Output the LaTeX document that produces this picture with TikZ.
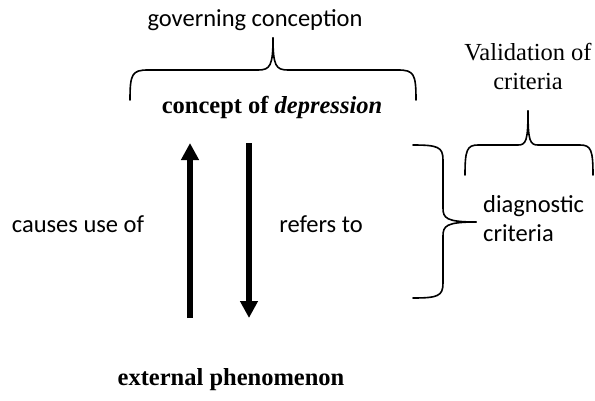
\documentclass[tikz,border=0pt]{standalone}
\usepackage{fontspec}
\setmainfont{Liberation Serif}
\newfontfamily\calibri{Carlito}
\usetikzlibrary{arrows.meta}
\tikzset{
  sanslabel/.style={font=\calibri\fontsize{24.5}{29}\selectfont, inner sep=0pt},
  seriflabel/.style={font=\fontsize{24.5}{29}\selectfont, inner sep=0pt},
  boldlabel/.style={font=\bfseries\fontsize{24.5}{29}\selectfont, inner sep=0pt},
  bracket/.style={line width=1.6pt, line cap=round},
  bigarrow/.style={line width=6pt, -{Triangle[length=17pt,width=17pt]}}
}
\begin{document}
\begin{tikzpicture}[x=1pt,y=-1pt]
    \useasboundingbox (0,0) rectangle (595,400);

    % Texts
    \node[sanslabel] (governing) at (255,20) {governing conception};
    \node[boldlabel] (concept) at (272,107) {concept of \textit{depression}};
    \node[boldlabel] (external) at (231,380) {external phenomenon};
    \node[sanslabel] (causes) at (78,224) {causes use of};
    \node[sanslabel] (refers) at (321,224) {refers to};
    \node[sanslabel, align=left, anchor=west] (diagnostic) at (483,219) {diagnostic\\criteria};
    \node[seriflabel, align=center] (validation) at (528,66) {Validation of\\criteria};

    % Braces
    \draw[bracket] (130,100) .. controls (130,74) and (132,70) .. (148,70) -- (258,70)
        .. controls (270,70) and (273,66) .. (273,38);
    \draw[bracket] (416,100) .. controls (416,74) and (414,70) .. (398,70) -- (288,70)
        .. controls (276,70) and (273,66) .. (273,38);
    \draw[bracket] (413,145) .. controls (438,145) and (443,147) .. (443,160) -- (443,208)
        .. controls (443,218) and (446,222) .. (476,222);
    \draw[bracket] (413,298) .. controls (438,298) and (443,296) .. (443,283) -- (443,236)
        .. controls (443,226) and (446,222) .. (476,222);
    \draw[bracket] (465,175) .. controls (465,150) and (467,145) .. (478,145) -- (518,145)
        .. controls (526,145) and (528,141) .. (528,111);
    \draw[bracket] (593,175) .. controls (593,150) and (591,145) .. (580,145) -- (538,145)
        .. controls (530,145) and (528,141) .. (528,111);

    % Arrows
    \coordinate (upstart) at (190,318);
    \coordinate (upend) at (190,143);
    \coordinate (downstart) at (249,143);
    \coordinate (downend) at (249,318);
    \draw[bigarrow] (upstart) -- (upend);
    \draw[bigarrow] (downstart) -- (downend);
\end{tikzpicture}
\end{document}
